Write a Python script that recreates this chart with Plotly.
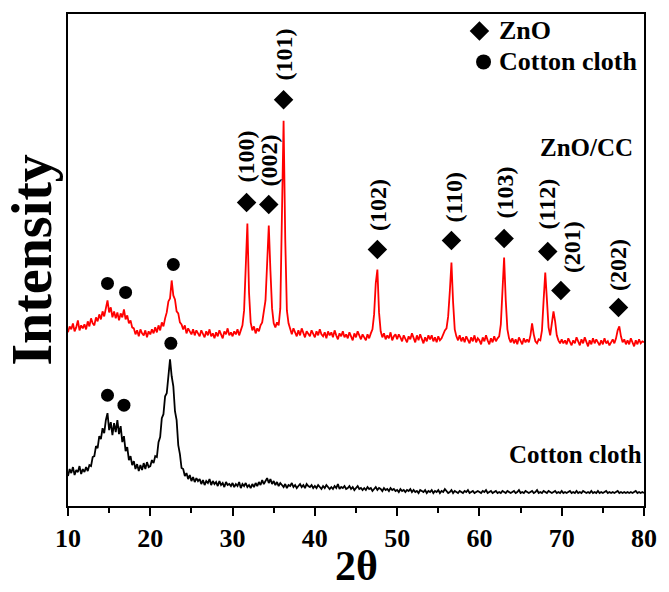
import plotly.graph_objects as go

# ---- data (intensity in a.u.) ----
THETA_START = 10.0
THETA_STEP = 0.2
N_POINTS = 351
two_theta = [round(THETA_START + THETA_STEP * i, 1) for i in range(N_POINTS)]

zno_cc = [
    174, 180, 177, 183, 175, 179, 186, 176, 181, 178,   # 10.0-11.8
    182, 177, 185, 180, 188, 183, 181, 189, 185, 192,   # 12
    187, 195, 190, 198, 206, 194, 199, 189, 195, 188,   # 14
    194, 186, 193, 189, 197, 187, 191, 183, 186, 179,   # 16
    178, 172, 176, 170, 177, 173, 171, 176, 169, 175,   # 18
    172, 177, 173, 179, 174, 181, 176, 184, 180, 188,   # 20
    194, 205, 208, 226, 211, 207, 195, 193, 184, 182,   # 22
    177, 181, 173, 178, 175, 172, 177, 171, 176, 173,   # 24
    170, 176, 172, 169, 175, 171, 177, 170, 173, 168,   # 26
    174, 170, 176, 171, 168, 175, 172, 178, 171, 174,   # 28
    170, 175, 172, 177, 171, 176, 181, 196, 238, 283,   # 30
    214, 184, 176, 180, 173, 178, 175, 181, 184, 194,   # 32
    206, 243, 281, 236, 198, 183, 179, 184, 181, 198,   # 34
    275, 386, 268, 196, 183, 177, 172, 178, 174, 170,   # 36
    176, 171, 178, 173, 169, 175, 172, 170, 176, 172,   # 38
    169, 175, 171, 177, 172, 170, 174, 168, 175, 171,   # 40
    174, 169, 176, 171, 167, 173, 170, 175, 169, 172,   # 42
    168, 174, 170, 166, 173, 169, 175, 171, 167, 172,   # 44
    169, 166, 172, 168, 173, 177, 192, 223, 237, 194,   # 46
    175, 169, 173, 167, 171, 168, 174, 166, 170, 172,   # 48
    167, 172, 169, 165, 171, 168, 164, 170, 167, 173,   # 50
    168, 164, 171, 166, 172, 167, 163, 169, 165, 171,   # 52
    167, 171, 165, 169, 164, 170, 166, 168, 172, 176,   # 54
    178, 190, 215, 244, 204, 177, 170, 166, 171, 165,   # 56
    169, 164, 170, 166, 163, 169, 165, 171, 164, 168,   # 58
    166, 162, 169, 165, 171, 166, 162, 168, 164, 170,   # 60
    165, 168, 170, 182, 215, 249, 206, 177, 168, 164,   # 62
    168, 163, 167, 162, 169, 165, 162, 168, 164, 167,   # 64
    164, 171, 183, 172, 165, 163, 167, 166, 176, 206,   # 66
    234, 207, 179, 171, 183, 195, 185, 171, 166, 163,   # 68
    167, 163, 166, 162, 168, 164, 161, 166, 163, 169,   # 70
    165, 161, 167, 163, 169, 164, 160, 166, 162, 168,   # 72
    163, 167, 164, 161, 166, 162, 168, 163, 165, 161,   # 74
    164, 167, 163, 168, 176, 180, 170, 164, 167, 162,   # 76
    166, 162, 168, 163, 160, 166, 162, 167, 163, 165,   # 78
    164,                                                # 80
]

cotton = [
    30, 37, 33, 39, 31, 36, 34, 40, 32, 37,            # 10.0-11.8
    34, 39, 35, 41, 40, 49, 50, 60, 58, 70,            # 12
    67, 78, 73, 86, 93, 76, 84, 71, 83, 74,            # 14
    86, 72, 80, 64, 70, 55, 59, 46, 50, 41,            # 16
    45, 37, 42, 35, 41, 36, 43, 37, 44, 39,            # 18
    40, 46, 43, 50, 49, 64, 69, 88, 92, 110,           # 20
    113, 131, 147, 130, 120, 95, 86, 61, 52, 38,       # 22
    37, 30, 33, 27, 31, 25, 29, 24, 28, 25,            # 24
    27, 22, 26, 21, 25, 23, 27, 21, 25, 22,            # 26
    24, 20, 25, 21, 23, 19, 24, 21, 22, 20,            # 28
    23, 19, 22, 20, 24, 18, 22, 20, 23, 19,            # 30
    21, 18, 22, 19, 23, 20, 24, 21, 26, 22,            # 32
    25, 28, 23, 27, 22, 25, 21, 24, 20, 23,            # 34
    21, 19, 22, 18, 21, 20, 23, 19, 21, 18,            # 36
    20, 22, 19, 21, 18, 22, 20, 19, 21, 18,            # 38
    20, 18, 21, 19, 17, 20, 18, 21, 19, 17,            # 40
    19, 17, 20, 18, 22, 17, 19, 18, 20, 17,            # 42
    18, 20, 17, 19, 16, 18, 20, 17, 18, 16,            # 44
    18, 16, 19, 17, 18, 15, 17, 19, 16, 18,            # 46
    17, 15, 18, 16, 17, 15, 18, 16, 17, 15,            # 48
    16, 14, 17, 15, 16, 14, 16, 15, 17, 14,            # 50
    16, 14, 15, 13, 16, 15, 14, 16, 13, 15,            # 52
    14, 16, 13, 15, 14, 16, 13, 15, 14, 17,            # 54
    15, 13, 14, 16, 13, 15, 14, 13, 15, 14,            # 56
    13, 15, 14, 16, 13, 14, 15, 13, 14, 15,            # 58
    14, 13, 15, 14, 16, 13, 14, 15, 13, 14,            # 60
    15, 13, 14, 13, 15, 14, 13, 15, 14, 13,            # 62
    14, 15, 13, 14, 16, 13, 14, 13, 15, 14,            # 64
    13, 14, 15, 13, 14, 16, 13, 14, 13, 15,            # 66
    14, 13, 15, 14, 13, 14, 15, 13, 14, 13,            # 68
    15, 13, 14, 13, 14, 15, 13, 14, 13, 15,            # 70
    13, 14, 13, 15, 14, 13, 14, 13, 15, 13,            # 72
    14, 13, 15, 13, 14, 13, 14, 15, 13, 14,            # 74
    13, 14, 13, 14, 15, 13, 14, 13, 14, 13,            # 76
    14, 13, 14, 13, 14, 15, 13, 14, 13, 14,            # 78
    13,                                                # 80
]

# ZnO reflections: marker and label positions (2θ, a.u.)
zno_hkl = ["(100)", "(002)", "(101)", "(102)", "(110)", "(103)", "(112)", "(201)", "(202)"]
zno_marker_theta = [31.7, 34.4, 36.2, 47.6, 56.6, 63.0, 68.3, 69.9, 76.9]
zno_marker_y = [304, 302, 407, 257, 266, 268, 255, 216, 199]
zno_label_theta = [31.6, 34.4, 36.2, 47.6, 56.9, 63.1, 68.2, 71.2, 76.9]
zno_label_y = [350, 346, 452, 302, 310, 314, 303, 259, 242]

# Cotton cloth reflections (circles)
cc_red_theta = [14.8, 17.0, 22.8]
cc_red_y = [223, 214, 242]
cc_black_theta = [14.8, 16.8, 22.5]
cc_black_y = [111, 101, 163]

x_ticks = [10, 20, 30, 40, 50, 60, 70, 80]

FONT = "Liberation Serif"

fig = go.Figure()
fig.add_trace(go.Scatter(x=two_theta, y=cotton, mode="lines",
                         line=dict(color="black", width=1.8), showlegend=False))
fig.add_trace(go.Scatter(x=two_theta, y=zno_cc, mode="lines",
                         line=dict(color="red", width=1.8), showlegend=False))

# markers
fig.add_trace(go.Scatter(x=zno_marker_theta, y=zno_marker_y, mode="markers",
                         marker=dict(symbol="diamond", size=15, color="black"),
                         showlegend=False))
fig.add_trace(go.Scatter(x=cc_red_theta + cc_black_theta, y=cc_red_y + cc_black_y,
                         mode="markers",
                         marker=dict(symbol="circle", size=13, color="black"),
                         showlegend=False))
# legend symbols
fig.add_trace(go.Scatter(x=[60.0], y=[476], mode="markers",
                         marker=dict(symbol="diamond", size=15, color="black"),
                         showlegend=False))
fig.add_trace(go.Scatter(x=[60.5], y=[445], mode="markers",
                         marker=dict(symbol="circle", size=15, color="black"),
                         showlegend=False))

annotations = []
for hkl, tx, ty in zip(zno_hkl, zno_label_theta, zno_label_y):
    annotations.append(dict(x=tx, y=ty, xref="x", yref="y", text=hkl, textangle=-90,
                            showarrow=False, xanchor="center", yanchor="middle",
                            font=dict(family=FONT, size=24, color="black", weight="bold")))
annotations += [
    dict(x=62.1, y=476, xref="x", yref="y", text="ZnO", showarrow=False,
         xanchor="left", yanchor="middle",
         font=dict(family=FONT, size=26, color="black", weight="bold")),
    dict(x=62.1, y=445, xref="x", yref="y", text="Cotton cloth", showarrow=False,
         xanchor="left", yanchor="middle",
         font=dict(family=FONT, size=26, color="black", weight="bold")),
    dict(x=73.0, y=359, xref="x", yref="y", text="ZnO/CC", showarrow=False,
         xanchor="center", yanchor="middle",
         font=dict(family=FONT, size=25, color="black", weight="bold")),
    dict(x=71.65, y=52, xref="x", yref="y", text="Cotton cloth", showarrow=False,
         xanchor="center", yanchor="middle",
         font=dict(family=FONT, size=25, color="black", weight="bold")),
    dict(x=-0.063, y=0.5, xref="paper", yref="paper", text="Intensity", textangle=-90,
         showarrow=False, xanchor="center", yanchor="middle",
         font=dict(family=FONT, size=56, color="black", weight="bold")),
    dict(x=0.5, y=-0.122, xref="paper", yref="paper", text="2θ",
         showarrow=False, xanchor="center", yanchor="middle",
         font=dict(family=FONT, size=42, color="black", weight="bold")),
]

fig.update_layout(
    width=669, height=592,
    margin=dict(l=68, r=13, t=13, b=86),
    paper_bgcolor="white", plot_bgcolor="white",
    font=dict(family=FONT, color="black", weight="bold"),
    annotations=annotations,
    showlegend=False,
)
fig.update_xaxes(
    range=[10, 80], tickvals=x_ticks, ticktext=[str(v) for v in x_ticks],
    ticks="outside", ticklen=8, tickwidth=2, tickcolor="black",
    minor=dict(ticks="outside", ticklen=5, tickwidth=2, tickcolor="black", dtick=5, tick0=5),
    showline=True, linewidth=2, linecolor="black", mirror=True,
    showgrid=False, zeroline=False,
    tickfont=dict(family=FONT, size=26, color="black", weight="bold"),
)
fig.update_yaxes(
    range=[0, 493], showticklabels=False, ticks="",
    showline=True, linewidth=2, linecolor="black", mirror=True,
    showgrid=False, zeroline=False,
)

fig.write_html("out.html")
